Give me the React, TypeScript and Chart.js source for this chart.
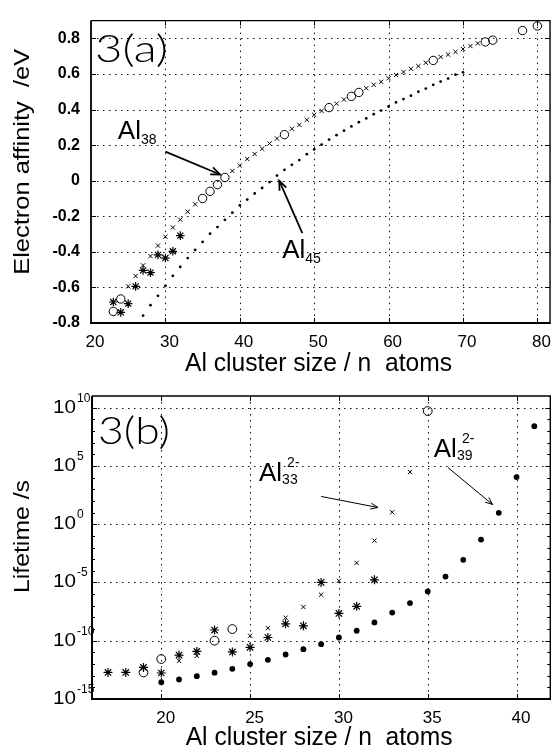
import React, { useEffect, useRef } from 'react';
import { Chart, registerables } from 'chart.js';

Chart.register(...registerables);

const FONT = '"Liberation Sans", Arial, Helvetica, sans-serif';
const PANEL_FONT = 'Lato, "Liberation Sans", Arial, sans-serif';

/* ---------- 3(a): electron affinity (eV) vs Al cluster size ---------- */
const eaXTicks = [20, 30, 40, 50, 60, 70, 80];
const eaYTicks = [-0.8, -0.6, -0.4, -0.2, 0, 0.2, 0.4, 0.6, 0.8];

const eaDotN = [27, 28, 29, 30, 31, 32, 33, 34, 35, 36, 37, 38, 39, 40, 41, 42, 43, 44, 45, 46, 47, 48,
  49, 50, 51, 52, 53, 54, 55, 56, 57, 58, 59, 60, 61, 62, 63, 64, 65, 66, 67, 68, 69, 70];
const eaDotV = [-0.758, -0.7, -0.647, -0.591, -0.535, -0.485, -0.435, -0.389, -0.344, -0.298,
  -0.261, -0.22, -0.18, -0.139, -0.106, -0.072, -0.041, -0.008, 0.029, 0.061,
  0.089, 0.116, 0.149, 0.176, 0.203, 0.231, 0.256, 0.281, 0.305, 0.329,
  0.35, 0.374, 0.394, 0.417, 0.44, 0.459, 0.478, 0.5, 0.518, 0.539,
  0.557, 0.574, 0.596, 0.609];

const eaCrossN = [25, 26, 27, 28, 29, 30, 31, 32, 33, 34, 39, 40, 41, 42, 43, 44, 45, 47, 48, 49, 50, 51,
  53, 54, 57, 58, 59, 60, 61, 62, 63, 64, 65, 67, 68, 69, 70, 71, 72];
const eaCrossV = [-0.594, -0.536, -0.476, -0.424, -0.365, -0.315, -0.263, -0.219, -0.174, -0.133,
  0.055, 0.085, 0.122, 0.15, 0.18, 0.209, 0.237, 0.292, 0.314, 0.342, 0.37, 0.392,
  0.433, 0.456, 0.52, 0.539, 0.556, 0.576, 0.594, 0.611, 0.629, 0.644, 0.663,
  0.696, 0.709, 0.724, 0.74, 0.757, 0.772];

const eaStarN = [23, 24, 25, 26, 27, 28, 29, 30, 31, 32];
const eaStarV = [-0.682, -0.74, -0.691, -0.594, -0.504, -0.517, -0.417, -0.435, -0.397, -0.309];

const eaCircleN = [23, 24, 35, 36, 37, 38, 46, 52, 55, 56, 66, 73, 74, 78, 80];
const eaCircleV = [-0.735, -0.665, -0.1, -0.06, -0.022, 0.018, 0.259, 0.411, 0.474, 0.496, 0.676,
  0.78, 0.79, 0.844, 0.87];

/* ---------- 3(b): lifetime (s) vs Al cluster size ---------- */
const ltXTicks = [20, 25, 30, 35, 40];
const ltYTicks = [1e-15, 1e-10, 1e-5, 1, 1e5, 1e10];
const ltYTickExp = ['-15', '-10', '-5', '0', '5', '10'];

const ltDotN = [20, 21, 22, 23, 24, 25, 26, 27, 28, 29, 30, 31, 32, 33, 34, 35, 36, 37, 38, 39, 40, 41];
const ltDotV = [2.8e-14, 4.8e-14, 9.1e-14, 1.8e-13, 3.9e-13, 1.0e-12, 2.3e-12, 6.6e-12, 1.9e-11, 5.1e-11,
  1.9e-10, 7.2e-10, 3.7e-9, 2.6e-8, 1.7e-7, 1.7e-6, 3.2e-5, 8.7e-4, 4.8e-2, 9.5, 1.1e4, 2.6e8];

const ltStarN = [17, 18, 19, 20, 21, 22, 23, 24, 25, 26, 27, 28, 29, 30, 31, 32];
const ltStarV = [1.9e-13, 1.9e-13, 5.1e-13, 1.7e-13, 5.9e-12, 1.2e-11, 8.3e-10, 1.1e-11, 2.7e-11, 1.9e-10,
  2.8e-9, 1.9e-9, 1.0e-5, 2.2e-8, 8.9e-8, 1.7e-5];

const ltCrossN = [21, 22, 25, 26, 27, 28, 29, 30, 31, 32, 33, 34];
const ltCrossV = [1.9e-12, 5.1e-12, 2.7e-10, 1.2e-9, 9.5e-9, 7.9e-8, 8.9e-7, 1.4e-5, 4.8e-4, 3.9e-2, 10.7, 3.0e4];

const ltCircleN = [19, 20, 23, 24, 35];
const ltCircleV = [1.9e-13, 2.7e-12, 1.0e-10, 1.0e-9, 5.1e9];

/* ---------- annotation anchors (data coordinates) ---------- */
const AL38 = { x: 23.6, y: 0.235 };
const AL38_ARROW = { x0: 30.0, y0: 0.163, x1: 37.35, y1: 0.035 };
const AL45 = { x: 45.7, y: -0.437 };
const AL45_ARROW = { x0: 48.4, y0: -0.295, x1: 45.3, y1: 0.0 };
const AL33 = { x: 25.5, y: 5.6e3 };
const AL33_ARROW = { x0: 29.0, y0: 2.4e2, x1: 32.2, y1: 27 };
const AL39 = { x: 35.34, y: 5.4e5 };
const AL39_ARROW = { x0: 36.13, y0: 7.4e4, x1: 38.65, y1: 49 };

function pts(n: number[], v: number[]) {
  return n.map((x, i) => ({ x, y: v[i] }));
}

function stretchText(ctx: CanvasRenderingContext2D, text: string, x: number, y: number, font: string,
  width: number | null, align: CanvasTextAlign) {
  ctx.font = font;
  ctx.textAlign = align;
  const m = ctx.measureText(text).width;
  ctx.save();
  ctx.translate(x, y);
  if (width) ctx.scale(width / m, 1);
  ctx.fillText(text, 0, 0);
  ctx.restore();
}

function arrow(ctx: CanvasRenderingContext2D, x0: number, y0: number, x1: number, y1: number, lw: number, head: number) {
  ctx.save();
  ctx.strokeStyle = '#000';
  ctx.lineWidth = lw;
  ctx.setLineDash([]);
  ctx.beginPath();
  ctx.moveTo(x0, y0);
  ctx.lineTo(x1, y1);
  ctx.stroke();
  const ang = Math.atan2(y1 - y0, x1 - x0);
  ctx.beginPath();
  ctx.moveTo(x1 - head * Math.cos(ang - 0.38), y1 - head * Math.sin(ang - 0.38));
  ctx.lineTo(x1, y1);
  ctx.lineTo(x1 - head * Math.cos(ang + 0.38), y1 - head * Math.sin(ang + 0.38));
  ctx.stroke();
  ctx.restore();
}

function alLabel(ctx: CanvasRenderingContext2D, x: number, y: number, sub: string, sup: string | null) {
  ctx.textAlign = 'left';
  ctx.textBaseline = 'alphabetic';
  ctx.font = `26px ${FONT}`;
  ctx.fillText('Al', x, y);
  const w = ctx.measureText('Al').width;
  ctx.font = `14px ${FONT}`;
  ctx.fillText(sub, x + w, y + (sup ? 3 : 5));
  if (sup) ctx.fillText(sup, x + w + 5, y - 14);
}

function makeFrame(o: {
  xTicks: number[]; yTicks: number[]; minorY?: number[]; leftW: number; botW: number; otherW: number;
  draw: (chart: any) => void;
}) {
  return {
    id: 'frameDeco',
    beforeDatasetsDraw(chart: any) {
      const ctx: CanvasRenderingContext2D = chart.ctx;
      const a = chart.chartArea;
      const sx = chart.scales.x;
      const sy = chart.scales.y;
      ctx.save();
      ctx.strokeStyle = '#111';
      ctx.lineWidth = 1;
      ctx.setLineDash([1.5, 4.5]);
      for (const v of o.xTicks) {
        const px = Math.round(sx.getPixelForValue(v)) + 0.5;
        if (px < a.left + 2 || px > a.right - 2) continue;
        ctx.beginPath(); ctx.moveTo(px, a.top); ctx.lineTo(px, a.bottom); ctx.stroke();
      }
      for (const v of o.yTicks) {
        const py = Math.round(sy.getPixelForValue(v)) + 0.5;
        if (py < a.top + 2 || py > a.bottom - 2) continue;
        ctx.beginPath(); ctx.moveTo(a.left, py); ctx.lineTo(a.right, py); ctx.stroke();
      }
      ctx.restore();
    },
    afterDatasetsDraw(chart: any) {
      const ctx: CanvasRenderingContext2D = chart.ctx;
      const a = chart.chartArea;
      const sx = chart.scales.x;
      const sy = chart.scales.y;
      ctx.save();
      ctx.setLineDash([]);
      ctx.strokeStyle = '#000';
      ctx.lineWidth = 1;
      const tl = 5;
      for (const v of o.xTicks) {
        const px = Math.round(sx.getPixelForValue(v)) + 0.5;
        if (px < a.left + 2 || px > a.right - 2) continue;
        ctx.beginPath();
        ctx.moveTo(px, a.bottom); ctx.lineTo(px, a.bottom - tl);
        ctx.moveTo(px, a.top); ctx.lineTo(px, a.top + tl);
        ctx.stroke();
      }
      for (const v of o.yTicks) {
        const py = Math.round(sy.getPixelForValue(v)) + 0.5;
        if (py < a.top + 2 || py > a.bottom - 2) continue;
        ctx.beginPath();
        ctx.moveTo(a.left, py); ctx.lineTo(a.left + tl, py);
        ctx.moveTo(a.right, py); ctx.lineTo(a.right - tl, py);
        ctx.stroke();
      }
      if (o.minorY) {
        for (const v of o.minorY) {
          const py = Math.round(sy.getPixelForValue(v)) + 0.5;
          if (py < a.top + 2 || py > a.bottom - 2) continue;
          ctx.beginPath();
          ctx.moveTo(a.left, py); ctx.lineTo(a.left + 3, py);
          ctx.moveTo(a.right, py); ctx.lineTo(a.right - 3, py);
          ctx.stroke();
        }
      }
      ctx.lineWidth = o.otherW;
      ctx.beginPath();
      ctx.moveTo(a.left, a.top); ctx.lineTo(a.right, a.top); ctx.lineTo(a.right, a.bottom);
      ctx.stroke();
      ctx.lineWidth = o.leftW;
      ctx.beginPath(); ctx.moveTo(a.left, a.top); ctx.lineTo(a.left, a.bottom); ctx.stroke();
      ctx.lineWidth = o.botW;
      ctx.beginPath(); ctx.moveTo(a.left - 1, a.bottom); ctx.lineTo(a.right + 0.7, a.bottom); ctx.stroke();
      ctx.restore();
    },
    afterDraw(chart: any) {
      const ctx: CanvasRenderingContext2D = chart.ctx;
      ctx.save();
      ctx.fillStyle = '#000';
      o.draw(chart);
      ctx.restore();
    },
  };
}

function configA(): any {
  const frame = makeFrame({
    xTicks: eaXTicks, yTicks: eaYTicks, leftW: 1.8, botW: 1.8, otherW: 1.4,
    draw: (chart: any) => {
      const { ctx, chartArea: a, scales: { x, y } } = chart;
      ctx.textBaseline = 'alphabetic';
      stretchText(ctx, '3(a)', a.left + 4, a.top + 41, `300 38px ${PANEL_FONT}`, 73, 'left');
      stretchText(ctx, 'Al cluster size / n  atoms', (a.left + a.right) / 2 - 2, 371, `25px ${FONT}`, 267, 'center');
      ctx.save();
      ctx.translate(29, (a.top + a.bottom) / 2 - 10);
      ctx.rotate(-Math.PI / 2);
      stretchText(ctx, 'Electron affinity  /eV', 0, 0, `22px ${FONT}`, 226, 'center');
      ctx.restore();
      alLabel(ctx, x.getPixelForValue(AL38.x), y.getPixelForValue(AL38.y), '38', null);
      arrow(ctx, x.getPixelForValue(AL38_ARROW.x0), y.getPixelForValue(AL38_ARROW.y0),
        x.getPixelForValue(AL38_ARROW.x1), y.getPixelForValue(AL38_ARROW.y1), 1.8, 10);
      alLabel(ctx, x.getPixelForValue(AL45.x), y.getPixelForValue(AL45.y), '45', null);
      arrow(ctx, x.getPixelForValue(AL45_ARROW.x0), y.getPixelForValue(AL45_ARROW.y0),
        x.getPixelForValue(AL45_ARROW.x1), y.getPixelForValue(AL45_ARROW.y1), 1.8, 10);
    },
  });
  return {
    type: 'scatter',
    data: {
      datasets: [
        { data: pts(eaDotN, eaDotV), pointStyle: 'circle', pointRadius: 1.4, backgroundColor: '#000', borderColor: '#000', borderWidth: 0 },
        { data: pts(eaCrossN, eaCrossV), pointStyle: 'crossRot', pointRadius: 3, backgroundColor: '#000', borderColor: '#000', borderWidth: 1 },
        { data: pts(eaStarN, eaStarV), pointStyle: 'star', pointRadius: 4.3, backgroundColor: '#000', borderColor: '#000', borderWidth: 1.2 },
        { data: pts(eaCircleN, eaCircleV), pointStyle: 'circle', pointRadius: 4.2, backgroundColor: 'rgba(0,0,0,0)', borderColor: '#000', borderWidth: 1 },
      ],
    },
    options: {
      animation: false,
      responsive: false,
      maintainAspectRatio: false,
      events: [],
      layout: { padding: { top: 16, right: 5, left: 0, bottom: 0 } },
      plugins: { legend: { display: false }, tooltip: { enabled: false }, title: { display: false } },
      scales: {
        x: {
          type: 'linear', min: 20, max: 81.7,
          grid: { display: false, drawTicks: false }, border: { display: false },
          afterBuildTicks: (s: any) => { s.ticks = eaXTicks.map((v) => ({ value: v })); },
          afterFit: (s: any) => { s.height = 52; },
          ticks: { color: '#000', font: { family: FONT, size: 17 }, padding: 9, labelOffset: 4, maxRotation: 0, autoSkip: false },
        },
        y: {
          type: 'linear', min: -0.8, max: 0.9,
          grid: { display: false, drawTicks: false }, border: { display: false },
          afterBuildTicks: (s: any) => { s.ticks = eaYTicks.map((v) => ({ value: v })); },
          afterFit: (s: any) => { s.width = 91; },
          ticks: {
            color: '#000', font: { family: FONT, size: 16, weight: 'bold' }, padding: 11, autoSkip: false,
            callback: (v: any) => (Math.abs(Number(v)) < 1e-9 ? '0' : Number(v).toFixed(1)),
          },
        },
      },
    },
    plugins: [frame],
  };
}

function configB(): any {
  const minor: number[] = [];
  for (let k = -15; k <= 11; k++) minor.push(Math.pow(10, k));
  const frame = makeFrame({
    xTicks: ltXTicks, yTicks: ltYTicks, minorY: minor, leftW: 2, botW: 1.8, otherW: 1.4,
    draw: (chart: any) => {
      const { ctx, chartArea: a, scales: { x, y } } = chart;
      ctx.textBaseline = 'alphabetic';
      stretchText(ctx, '3(b)', a.left + 6, a.top + 48, `300 38px ${PANEL_FONT}`, 72, 'left');
      stretchText(ctx, 'Al cluster size / n  atoms', (a.left + a.right) / 2 - 2, 370, `25px ${FONT}`, 267, 'center');
      ctx.save();
      ctx.translate(29, (a.top + a.bottom) / 2 - 11);
      ctx.rotate(-Math.PI / 2);
      stretchText(ctx, 'Lifetime /s', 0, 0, `22px ${FONT}`, 113, 'center');
      ctx.restore();
      ltYTicks.forEach((v, i) => {
        const py = y.getPixelForValue(v);
        stretchText(ctx, '10', a.left - 16, py + 5, `19px ${FONT}`, 23, 'right');
        ctx.font = `12px ${FONT}`;
        ctx.textAlign = 'left';
        ctx.fillText(ltYTickExp[i], a.left - 15, py - 6);
      });
      alLabel(ctx, x.getPixelForValue(AL33.x), y.getPixelForValue(AL33.y), '33', '2-');
      arrow(ctx, x.getPixelForValue(AL33_ARROW.x0), y.getPixelForValue(AL33_ARROW.y0),
        x.getPixelForValue(AL33_ARROW.x1), y.getPixelForValue(AL33_ARROW.y1), 1, 8);
      alLabel(ctx, x.getPixelForValue(AL39.x), y.getPixelForValue(AL39.y), '39', '2-');
      arrow(ctx, x.getPixelForValue(AL39_ARROW.x0), y.getPixelForValue(AL39_ARROW.y0),
        x.getPixelForValue(AL39_ARROW.x1), y.getPixelForValue(AL39_ARROW.y1), 1, 8);
    },
  });
  return {
    type: 'scatter',
    data: {
      datasets: [
        { data: pts(ltDotN, ltDotV), pointStyle: 'circle', pointRadius: 2.9, backgroundColor: '#000', borderColor: '#000', borderWidth: 0 },
        { data: pts(ltCrossN, ltCrossV), pointStyle: 'crossRot', pointRadius: 3, backgroundColor: '#000', borderColor: '#000', borderWidth: 1 },
        { data: pts(ltStarN, ltStarV), pointStyle: 'star', pointRadius: 4.5, backgroundColor: '#000', borderColor: '#000', borderWidth: 1.2 },
        { data: pts(ltCircleN, ltCircleV), pointStyle: 'circle', pointRadius: 4.4, backgroundColor: 'rgba(0,0,0,0)', borderColor: '#000', borderWidth: 1 },
      ],
    },
    options: {
      animation: false,
      responsive: false,
      maintainAspectRatio: false,
      events: [],
      layout: { padding: { top: 21, right: 4, left: 0, bottom: 0 } },
      plugins: { legend: { display: false }, tooltip: { enabled: false }, title: { display: false } },
      scales: {
        x: {
          type: 'linear', min: 16.1, max: 41.9,
          grid: { display: false, drawTicks: false }, border: { display: false },
          afterBuildTicks: (s: any) => { s.ticks = ltXTicks.map((v) => ({ value: v })); },
          afterFit: (s: any) => { s.height = 48; },
          ticks: { color: '#000', font: { family: FONT, size: 17 }, padding: 9, labelOffset: 4.5, maxRotation: 0, autoSkip: false },
        },
        y: {
          type: 'logarithmic', min: 1e-15, max: 1e11,
          grid: { display: false, drawTicks: false }, border: { display: false },
          afterBuildTicks: (s: any) => { s.ticks = ltYTicks.map((v) => ({ value: v })); },
          afterFit: (s: any) => { s.width = 92; },
          ticks: { display: false },
        },
      },
    },
    plugins: [frame],
  };
}

function ChartCanvas({ make, top, height }: { make: () => any; top: number; height: number }) {
  const ref = useRef<HTMLCanvasElement>(null);
  useEffect(() => {
    const chart = new Chart(ref.current as HTMLCanvasElement, make());
    return () => chart.destroy();
  }, [make]);
  return (
    <canvas
      ref={ref}
      width={556}
      height={height}
      style={{ position: 'absolute', left: 0, top, width: 556, height, display: 'block' }}
    />
  );
}

export default function App() {
  return (
    <div style={{ position: 'fixed', left: 0, top: 0, width: 556, height: 747, background: '#fff', overflow: 'hidden' }}>
      <ChartCanvas make={configA} top={0} height={375} />
      <ChartCanvas make={configB} top={375} height={372} />
    </div>
  );
}
